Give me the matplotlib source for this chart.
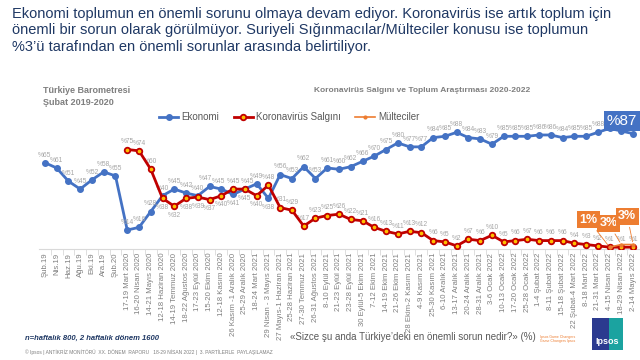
import numpy as np
import matplotlib
matplotlib.use('Agg')
import matplotlib.pyplot as plt

plt.rcParams['font.family'] = ['Liberation Sans', 'DejaVu Sans']

categories = [
    "Şub.19", "Nis.19", "Haz.19", "Ağu.19", "Eki.19", "Ara.19", "Şub.20",
    "17-19 Mart 2020", "16-20 Nisan 2020", "14-21 Mayıs 2020", "12-18 Haziran 2020",
    "14-19 Temmuz 2020", "18-22 Ağustos 2020", "17-23 Eylül 2020", "15-20 Ekim 2020",
    "12-18 Kasım 2020", "26 Kasım -1 Aralık 2020", "25-29 Aralık 2020", "18-24 Mart 2021",
    "29 Nisan - 3 Mayıs 2021", "27 Mayıs-1 Haziran 2021", "25-28 Haziran 2021",
    "27-30 Temmuz 2021", "26-31 Ağustos 2021", "8-10 Eylül 2021", "21-23 Eylül 2021",
    "23-28 Eylül 2021", "30 Eylül-5 Ekim 2021", "7-12 Ekim 2021", "14-19 Ekim 2021",
    "21-26 Ekim 2021", "28 Ekim-2 Kasım 2021", "4-9 Kasım 2021", "25-30 Kasım 2021",
    "6-10 Aralık 2021", "13-17 Aralık 2021", "20-24 Aralık 2021", "28-31 Aralık 2021",
    "3-6 Ocak 2022", "10-13 Ocak 2022", "17-20 Ocak 2022", "25-28 Ocak 2022",
    "1-4 Şubat 2022", "8-11 Şubat 2022", "15-18 Şubat 2022", "22 Şubat-4 Mart 2022",
    "8-18 Mart 2022", "21-31 Mart 2022", "4-15 Nisan 2022", "18-29 Nisan 2022",
    "2-14 Mayıs 2022",
]

ekonomi = [65, 61, 51, 45, 52, 58, 55, 14, 16, 28, 40, 45, 42, 40, 47, 45, 41, 45, 49, 38,
           56, 53, 62, 53, 61, 60, 62, 66, 70, 75, 80, 77, 77, 84, 85, 88, 84, 83, 79, 85,
           85, 85, 86, 86, 84, 85, 85, 88, 91, 89, 87]

korona = [np.nan] * 7 + [75, 74, 60, 38, 32, 38, 39, 37, 40, 45, 45, 40, 48, 31, 29, 17,
                         23, 25, 26, 22, 21, 16, 13, 11, 13, 12, 6, 5, 2, 7, 6, 10, 5, 6,
                         7, 6, 6, 6, 4, 3, 2, 1, 1, 1]

multeci = [np.nan] * 48 + [1, 3, 3]

BLUE = '#4472C4'
RED = '#C00000'
ORANGE = '#ED7D31'
GRAY = '#A6A6A6'

fig = plt.figure(figsize=(6.4, 3.6), dpi=100)
ax = fig.add_axes([39 / 640, 111.5 / 360, 600 / 640, 132 / 360])

x = np.arange(len(categories))
ax.plot(x, ekonomi, color=BLUE, lw=2, marker='o', ms=4, label='Ekonomi', zorder=3)
ax.plot(x, korona, color=RED, lw=2, marker='o', ms=4, mfc='#FFC000', mec=RED, mew=1.3,
        label='Koronavirüs Salgını', zorder=4)
ax.plot(x, multeci, color=ORANGE, lw=1.2, marker='o', ms=2, label='Mülteciler', zorder=5)

# data labels
for i, v in enumerate(ekonomi):
    if i >= 48:
        continue
    dy = -9 if i in (16, 19) else 3
    dx = {14: -3, 15: -2, 17: 2}.get(i, 0)
    ax.annotate(f"%{v}", (i, v), xytext=(dx, dy), textcoords='offset points',
                ha='center', va='bottom', fontsize=4.8, color=GRAY)
for i, v in enumerate(korona):
    if np.isnan(v):
        continue
    below = 10 <= i <= 18 and i != 16
    dy = -9 if below else 3
    ax.annotate(f"%{int(v)}", (i, v), xytext=(0, dy), textcoords='offset points',
                ha='center', va='bottom', fontsize=4.8, color=GRAY)

# last Ekonomi value box
ax.text(x[-1] - 0.95, 96.5, f"%{ekonomi[-1]}", fontsize=11, color='white', ha='center',
        va='center', bbox=dict(boxstyle='square,pad=0.18', fc=BLUE, ec='none'),
        clip_on=False, zorder=10)

# Mülteciler callouts
box_pos = [(46.2, 21.6), (47.9, 19.3), (49.5, 24.6)]
for (bx, by), i in zip(box_pos, range(48, 51)):
    ax.annotate(f"{multeci[i]}%", (i, multeci[i]), xytext=(bx, by), fontsize=9,
                fontweight='bold', color='white', ha='center', va='center',
                bbox=dict(boxstyle='square,pad=0.2', fc=ORANGE, ec='none'),
                arrowprops=dict(arrowstyle='-', color=ORANGE, lw=0.6),
                annotation_clip=False, zorder=9)

ax.set_xlim(-0.5, len(categories) - 0.5)
ax.set_ylim(0, 100)
ax.set_xticks(x)
ax.set_xticklabels(categories, rotation=90, fontsize=5.6, color='#7F7F7F')
ax.set_xticks(x[:-1] + 0.5, minor=True)
ax.tick_params(axis='x', which='major', length=0, pad=3)
ax.tick_params(axis='x', which='minor', length=4, color='#D9D9D9')
ax.set_yticks([])
for s in ['top', 'right', 'left']:
    ax.spines[s].set_visible(False)
ax.spines['bottom'].set_color('#D9D9D9')

ax.legend(loc='center left', bbox_to_anchor=(155 / 640, 243 / 360), bbox_transform=fig.transFigure,
          ncol=3, frameon=False, fontsize=7, labelcolor='#595959', handlelength=2,
          columnspacing=1.5, handletextpad=0.3, borderaxespad=0)

fig.text(12 / 640, 1 - 7 / 360,
         "Ekonomi toplumun en önemli sorunu olmaya devam ediyor. Koronavirüs ise artık toplum için\n"
         "önemli bir sorun olarak görülmüyor. Suriyeli Sığınmacılar/Mülteciler konusu ise toplumun\n"
         "%3’ü tarafından en önemli sorunlar arasında belirtiliyor.",
         fontsize=10.5, color='#1F3864', va='top', linespacing=1.22)
fig.text(43 / 640, 1 - 96.5 / 360, "Türkiye Barometresi\nŞubat 2019-2020", fontsize=6.5,
         fontweight='bold', color='#7F7F7F', va='center', linespacing=1.3)
fig.text(422 / 640, 1 - 90 / 360, "Koronavirüs Salgını ve Toplum Araştırması 2020-2022",
         fontsize=6, fontweight='bold', color='#7F7F7F', ha='center', va='center')
fig.text(25 / 640, 1 - 338 / 360, "n=haftalık 800, 2 haftalık dönem 1600", fontsize=5.5,
         fontweight='bold', style='italic', color='#1F3864', va='center')
fig.text(290 / 640, 1 - 337 / 360, "«Sizce şu anda Türkiye’deki en önemli sorun nedir?» (%)",
         fontsize=7, color='#595959', va='center')
fig.text(25 / 640, 1 - 352 / 360,
         "© Ipsos | ANTİKRİZ MONİTÖRÜ  XX. DÖNEM  RAPORU   18-29 NİSAN 2022 |  3. PARTİLERLE  PAYLAŞILAMAZ",
         fontsize=3.5, color='#7F7F7F', va='center')
fig.text(558 / 640, 1 - 339 / 360, "Ipsos Game Changers\nGame Changers Ipsos", fontsize=2.5,
         color=ORANGE, ha='center', va='center')

# Ipsos logo
fig.patches.append(plt.Rectangle((592 / 640, 1 - 350 / 360), 31 / 640, 32 / 360,
                                 transform=fig.transFigure, fc='#1BA3A0', ec='none'))
fig.patches.append(plt.Rectangle((592 / 640, 1 - 350 / 360), 17 / 640, 32 / 360,
                                 transform=fig.transFigure, fc='#2B3A8F', ec='none'))
fig.text(607 / 640, 1 - 341 / 360, "Ipsos", fontsize=6.5, fontweight='bold', color='white',
         ha='center', va='center')

fig.savefig('out.png', dpi=100)
